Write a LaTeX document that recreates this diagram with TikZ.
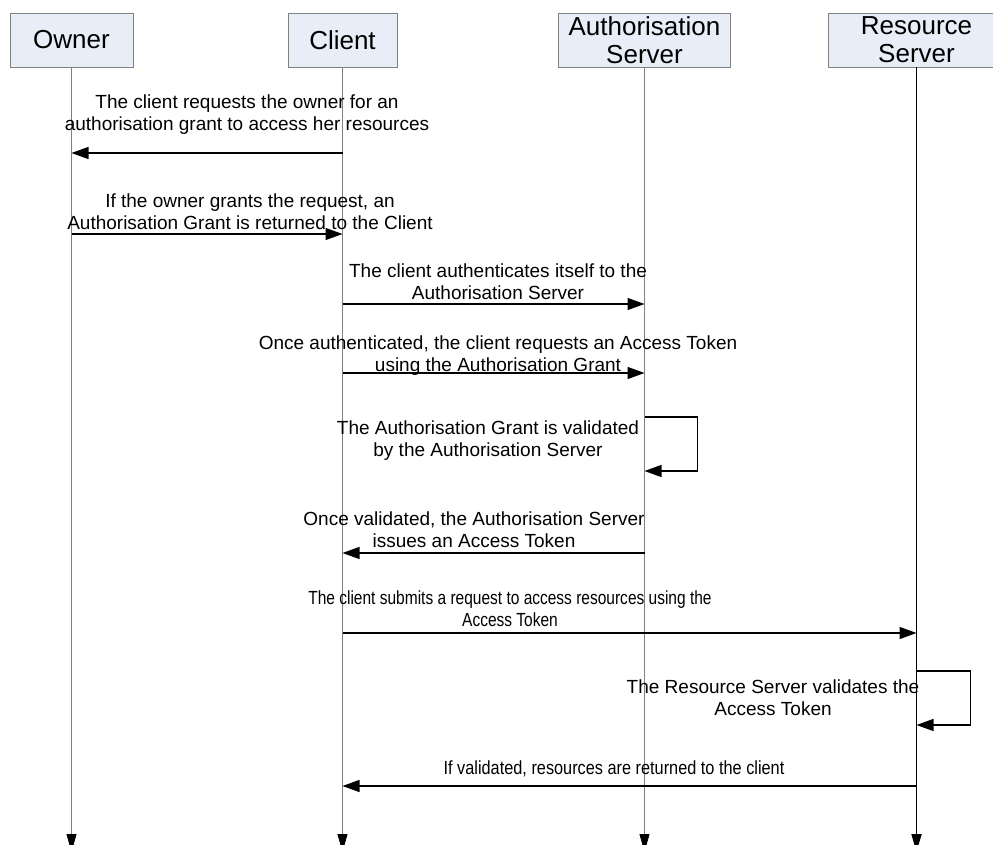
\documentclass[tikz,border=0pt]{standalone}
\usepackage{fontspec}
\usepackage{graphicx}
\setmainfont{Liberation Sans}
\usetikzlibrary{arrows.meta,calc}
\definecolor{boxfill}{HTML}{E8EEF7}
\definecolor{boxline}{HTML}{808080}
% horizontally condensed two-line label
\newcommand{\condensed}[2]{\scalebox{#1}[1]{\begin{tabular}{@{}c@{}}#2\end{tabular}}}
\begin{document}
\begin{tikzpicture}[x=1pt,y=-1pt,
  actor/.style={draw=boxline, fill=boxfill, line width=0.8pt, minimum height=54pt,
    inner sep=0pt, align=center, font=\fontsize{26}{28}\selectfont},
  lifeline/.style={draw=boxline, line width=0.8pt,
    -{Triangle[length=18pt,width=10pt,color=black]}},
  mainline/.style={draw=black, line width=1.8pt,
    -{Triangle[length=18pt,width=10pt]}},
  msg/.style={line width=1.3pt, -{Triangle[length=17pt,width=12pt]}},
  note/.style={align=center, inner sep=0pt, font=\fontsize{19}{22}\selectfont}]

\useasboundingbox (0,0) rectangle (993,845);
\clip (0,0) rectangle (993,845);

% participants
\node[actor, minimum width=123pt] (owner)  at (71.5,40)  {Owner};
\node[actor, minimum width=109pt] (client) at (342.5,40) {Client};
\node[actor, minimum width=172pt] (auth)   at (644.5,40) {Authorisation\\Server};
\node[actor, minimum width=177pt] (res)    at (916.5,40) {Resource\\Server};

% lifelines
\coordinate (bottom) at (0,852);
\draw[lifeline] (owner.south)  -- (owner.south  |- bottom);
\draw[lifeline] (client.south) -- (client.south |- bottom);
\draw[lifeline] (auth.south)   -- (auth.south   |- bottom);
\draw[mainline] (res.south)    -- (res.south    |- bottom);

% message rows
\coordinate (r1) at (0,153);
\coordinate (r2) at (0,234);
\coordinate (r3) at (0,304);
\coordinate (r4) at (0,373);
\coordinate (l1a) at (0,417);
\coordinate (l1b) at (0,471);
\coordinate (r6) at (0,553);
\coordinate (r7) at (0,633);
\coordinate (l2a) at (0,671);
\coordinate (l2b) at (0,725);
\coordinate (r9) at (0,786);

% messages
\draw[msg] (client |- r1) -- (owner |- r1);
\node[note] (t1) at (247,114.5) {The client requests the owner for an\\authorisation grant to access her resources};

\draw[msg] (owner |- r2) -- (client |- r2);
\node[note] (t2) at (250,212) {If the owner grants the request, an\\Authorisation Grant is returned to the Client};

\draw[msg] (client |- r3) -- (auth |- r3);
\node[note] (t3) at (498,282) {The client authenticates itself to the\\Authorisation Server};

\draw[msg] (client |- r4) -- (auth |- r4);
\node[note] (t4) at (498,356) {Once authenticated, the client requests an Access Token\\using the Authorisation Grant};

\draw[msg] (auth |- l1a) -- ++(53,0) |- (auth |- l1b);
\node[note] (t5) at (488,441) {The Authorisation Grant is validated\\by the Authorisation Server};

\draw[msg] (auth |- r6) -- (client |- r6);
\node[note] (t6) at (474,530) {Once validated, the Authorisation Server\\issues an Access Token};

\draw[msg] (client |- r7) -- (res |- r7);
\node[note] (t7) at (510,611) {\condensed{0.816}{The client submits a request to access resources using the\\Access Token}};

\draw[msg] (res |- l2a) -- ++(54,0) |- (res |- l2b);
\node[note] (t8) at (773,698) {The Resource Server validates the\\Access Token};

\draw[msg] (res |- r9) -- (client |- r9);
\node[note] (t9) at (614,770) {\condensed{0.858}{If validated, resources are returned to the client}};

\end{tikzpicture}
\end{document}
